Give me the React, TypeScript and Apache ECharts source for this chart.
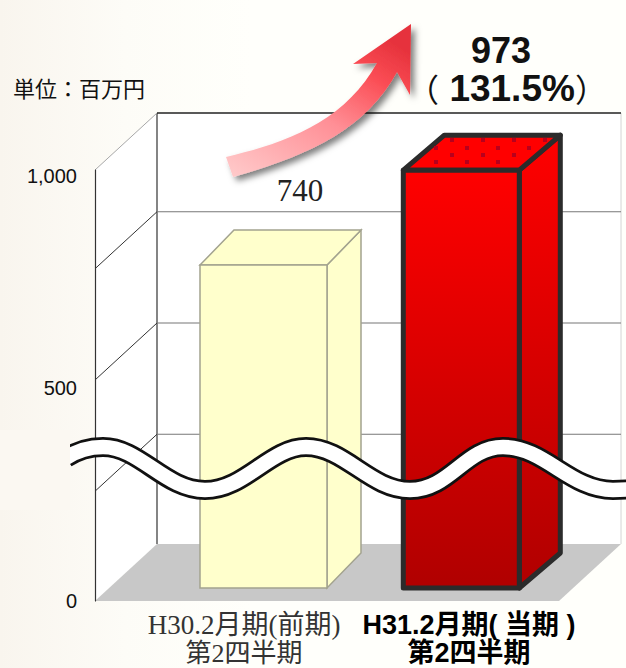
import React, { useEffect, useRef } from "react";
import * as echarts from "echarts";

const categories = ["H30.2月期(前期)\n第2四半期", "H31.2月期( 当期 )\n第2四半期"];
const values = [740, 973];
const ratios = ["", "131.5%"];
const yTicks = [0, 250, 500, 750, 1000];
const unitLabel = "単位：百万円";

// Drawing geometry of each pseudo-3D bar, relative to its category position.
const BAR_GEOM = [
  { dx: 19.5, w: 127, lift: 17, depthX: 34, depthY: 35 },
  { dx: -7.7, w: 116, lift: 11.5, depthX: 41, depthY: 35 },
];
const BASE_LIFT = 13;
const WALL = { left: 95, back: 157, right: 621, floorRight: 559 };
const WALL_DEPTH_Y = 57;
// The printed gridlines are slightly uneven because of the axis break.
const GRID_NUDGE: Record<number, number> = { 0: 0, 250: -2, 500: -5.5, 750: -9, 1000: 0 };

const ARROW = "M226 157 C 290 142 345 120 377 63 L 353 64 L 411 24 L 410 95 L 397 72 C 365 130 310 155 233 177 Z";
const WAVE = "M66 458 C 78 450 90 447 103 447 C 140 447 165 490 205 490 C 245 490 270 447 306 447 C 345 447 370 490 410 490 C 450 490 465 447 503 447 C 545 447 570 490 613 490 C 618 490 624 490 632 489";

echarts.graphic.registerShape("riseArrow", echarts.graphic.extendPath(ARROW, {}));
echarts.graphic.registerShape("breakWave", echarts.graphic.extendPath(WAVE, {}));

const JP_SANS = '"Liberation Sans", "Noto Sans CJK JP", sans-serif';
const JP_SERIF = '"Liberation Serif", "Noto Sans CJK JP", serif';

function wallItem(_p: any, api: any) {
  const y0 = api.coord([0, 0])[1];
  const y1 = api.coord([0, 1000])[1];
  const d = WALL_DEPTH_Y;
  return {
    type: "group",
    silent: true,
    children: [
      { type: "rect", shape: { x: WALL.back, y: y1 - d, width: WALL.right - WALL.back, height: y0 - y1 }, style: { fill: "#ffffff" } },
      { type: "polygon", shape: { points: [[WALL.left, y1], [WALL.back, y1 - d], [WALL.back, y0 - d], [WALL.left, y0]] }, style: { fill: "#ffffff" } },
      { type: "polygon", shape: { points: [[WALL.left, y0], [WALL.back, y0 - d], [WALL.right, y0 - d], [WALL.floorRight, y0]] }, style: { fill: "#c8c8c8" } },
      { type: "line", shape: { x1: WALL.back, y1: y1 - d, x2: WALL.back, y2: y0 - d }, style: { stroke: "#333333", lineWidth: 1.2 } },
      { type: "line", shape: { x1: WALL.right, y1: y1 - d, x2: WALL.right, y2: y0 - d }, style: { stroke: "#d4d4d4", lineWidth: 1 } },
    ],
  };
}

function gridItem(_p: any, api: any) {
  const v = api.value(1);
  const y = api.coord([0, v])[1] + (GRID_NUDGE[v] || 0);
  const d = WALL_DEPTH_Y;
  const top = v === 1000;
  const children: any[] = [];
  if (v > 0) {
    children.push({
      type: "line",
      shape: { x1: WALL.left, y1: y, x2: WALL.back, y2: y - d },
      style: { stroke: top ? "#a8a8a8" : "#333333", lineWidth: 1 },
    });
    children.push({
      type: "line",
      shape: { x1: WALL.back, y1: y - d, x2: WALL.right, y2: y - d },
      style: { stroke: top ? "#222222" : "#777777", lineWidth: top ? 1.6 : 1.2 },
    });
  }
  return { type: "group", silent: true, children };
}

function barItem(p: any, api: any) {
  const i = p.dataIndex;
  const g = BAR_GEOM[i];
  const v = api.value(1);
  const c = api.coord([api.value(0), v]);
  const base = api.coord([api.value(0), 0])[1] - BASE_LIFT;
  const l = c[0] + g.dx - g.w / 2;
  const r = l + g.w;
  const t = c[1] - g.lift;
  const dx = g.depthX;
  const dy = g.depthY;
  const hi = i === 1;
  const edge = hi
    ? { stroke: "#2b2b2b", lineWidth: 5, lineJoin: "round" }
    : { stroke: "#a3a38f", lineWidth: 1.5, lineJoin: "miter" };
  const body = hi
    ? new echarts.graphic.LinearGradient(0, 0, 0, 1, [
        { offset: 0, color: "#ff0000" },
        { offset: 1, color: "#b00000" },
      ])
    : "#ffffcc";
  const children: any[] = [
    { type: "polygon", shape: { points: [[r, t], [r + dx, t - dy], [r + dx, base - dy], [r, base]] }, style: { fill: body, ...edge } },
    { type: "polygon", shape: { points: [[l, t], [l + dx, t - dy], [r + dx, t - dy], [r, t]] }, style: { fill: hi ? "#ff0000" : "#ffffcc", ...edge } },
  ];
  if (hi) {
    for (let row = 0; row < 4; row++) {
      const n = row < 2 ? 4 : 3;
      const sx = l + (row % 2 === 0 ? 49 : 33);
      const sy = t - 30 + row * 7.4;
      for (let k = 0; k < n; k++) {
        children.push({
          type: "rect",
          shape: { x: Math.round(sx + k * 31 - 2), y: Math.round(sy - 2), width: 4, height: 4 },
          style: { fill: "#b8001c" },
        });
      }
    }
  }
  children.push({ type: "rect", shape: { x: l, y: t, width: g.w, height: base - t }, style: { fill: body, ...edge } });
  if (hi) {
    children.push({
      type: "text",
      style: { text: String(v), x: 501, y: t - 120, align: "center", verticalAlign: "middle", font: `bold 36px ${JP_SANS}`, fill: "#111111" },
    });
    children.push({
      type: "text",
      style: {
        text: `{p|（}{n| ${ratios[i]}}{p|）}`,
        x: 507,
        y: t - 82,
        align: "center",
        verticalAlign: "middle",
        fill: "#111111",
        rich: {
          p: { font: `32px "Noto Sans CJK JP"`, fill: "#111111" },
          n: { font: `bold 37px ${JP_SANS}`, fill: "#111111" },
        },
      },
    });
  } else {
    children.push({
      type: "text",
      style: { text: String(v), x: 300, y: t - 75, align: "center", verticalAlign: "middle", font: `31px ${JP_SERIF}`, fill: "#222222" },
    });
  }
  return { type: "group", silent: true, children };
}

export default function App() {
  const ref = useRef<HTMLDivElement>(null);
  useEffect(() => {
    document.body.style.margin = "0";
    const chart = echarts.init(ref.current!, null, { renderer: "svg" });
    chart.setOption({
      animation: false,
      backgroundColor: new echarts.graphic.LinearGradient(0, 0, 1, 0, [
        { offset: 0, color: "#f9f5ee" },
        { offset: 0.2, color: "#fdfcf7" },
        { offset: 0.4, color: "#fffffb" },
        { offset: 1, color: "#fffffb" },
      ]),
      grid: { left: 131.5, width: 450, top: 170, height: 431, outerBoundsMode: "none" },
      xAxis: {
        type: "category",
        data: categories,
        axisLine: { show: false },
        axisTick: { show: false },
        axisLabel: {
          interval: 0,
          margin: 10,
          formatter: (val: string, idx: number) =>
            val
              .split("\n")
              .map((s, line) => `{${idx === 0 ? (line === 0 ? "a0" : "a1") : "b"}|${s}}`)
              .join("\n"),
          rich: {
            a0: { fontFamily: JP_SERIF, fontSize: 27, lineHeight: 28, color: "#333333", align: "center" },
            a1: { fontFamily: JP_SERIF, fontSize: 26, lineHeight: 28, color: "#333333", align: "center" },
            b: { fontFamily: JP_SANS, fontSize: 27, fontWeight: "bold", lineHeight: 28, color: "#000000", align: "center" },
          },
        },
      },
      yAxis: {
        type: "value",
        z: 6,
        min: 0,
        max: 1000,
        interval: 500,
        offset: 36.5,
        axisLine: { show: true, lineStyle: { color: "#333333", width: 1.2 } },
        axisTick: { show: false },
        splitLine: { show: false },
        axisLabel: {
          margin: 18,
          formatter: (v: number) => (v === 1000 ? "{t|1,000}" : v === 500 ? "{m|500}" : "{z|0}"),
          rich: {
            t: { fontFamily: JP_SANS, fontSize: 20, color: "#111111", padding: [12, 0, 0, 0] },
            m: { fontFamily: JP_SANS, fontSize: 20, color: "#111111", padding: [5, 0, 0, 0] },
            z: { fontFamily: JP_SANS, fontSize: 20, color: "#111111" },
          },
        },
      },
      series: [
        { type: "custom", z: 1, clip: false, renderItem: wallItem, data: [[0, 0]], encode: { x: 0, y: 1 } },
        { type: "custom", z: 2, clip: false, renderItem: gridItem, data: yTicks.map((v) => [0, v]), encode: { x: 0, y: 1 } },
        { type: "custom", z: 3, clip: false, renderItem: barItem, data: values.map((v, i) => [i, v]), encode: { x: 0, y: 1 } },
      ],
      graphic: [
        { type: "text", z: 20, x: 13, y: 76, style: { text: unitLabel, font: `22px "Noto Sans CJK JP"`, fill: "#111111" } },
        {
          type: "riseArrow",
          z: 30,
          x: 0,
          y: 0,
          style: {
            fill: new echarts.graphic.LinearGradient(0, 1, 0.75, 0, [
              { offset: 0, color: "#ffcccc" },
              { offset: 0.5, color: "#ff8f96" },
              { offset: 0.8, color: "#fb4d55" },
              { offset: 1, color: "#e6323c" },
            ]),
            shadowBlur: 6,
            shadowOffsetX: 4,
            shadowOffsetY: 4,
            shadowColor: "rgba(0,0,0,0.5)",
          },
        },
        { type: "breakWave", z: 40, x: 0, y: 0, style: { fill: "none", stroke: "#111111", lineWidth: 20 } },
        { type: "breakWave", z: 41, x: 0, y: 0, style: { fill: "none", stroke: "#ffffff", lineWidth: 14.5 } },
        { type: "rect", z: 42, shape: { x: 0, y: 430, width: 70, height: 80 }, style: { fill: "#fbf8f2" } },
      ],
    });
    return () => chart.dispose();
  }, []);
  return <div ref={ref} style={{ width: 626, height: 668 }} />;
}
